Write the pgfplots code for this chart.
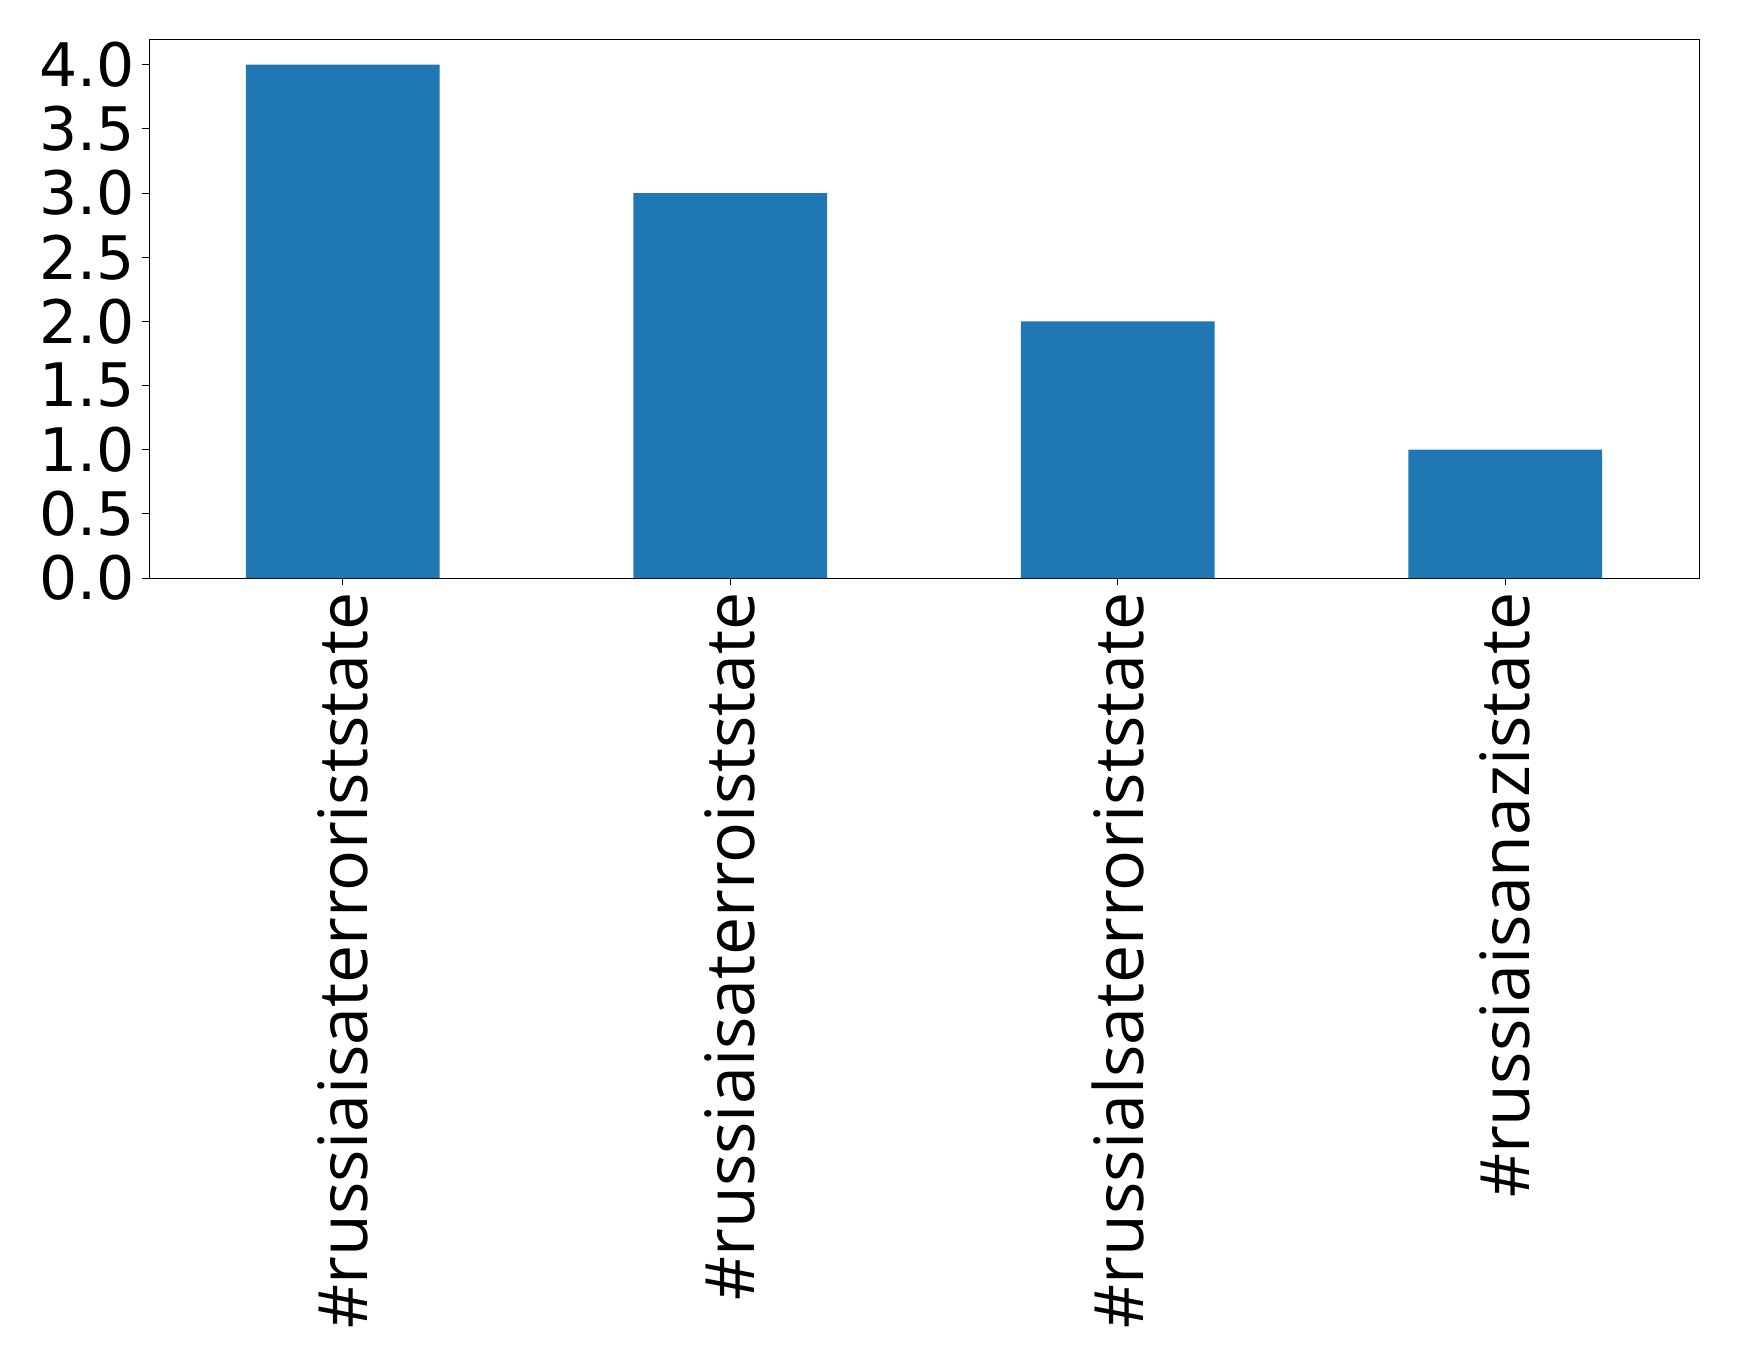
\documentclass[border=0pt]{standalone}
\usepackage{fontspec}
\setmainfont{DejaVu Sans}
\newfontfamily\labelfont{Open Sans}
\usepackage{pgfplots}
\pgfplotsset{compat=1.18}
\definecolor{mplblue}{HTML}{1F77B4}

\begin{document}
\begin{tikzpicture}
\begin{axis}[
    name=ax,
    scale only axis,
    width=775pt, height=269.5pt,
    ybar, bar width=0.5, bar shift=0pt,
    xmin=-0.5, xmax=3.5,
    ymin=0, ymax=4.2,
    xtick={0,1,2,3},
    xticklabels={\#russiaisaterroriststate,\#russiaisaterroiststate,\#russialsaterroriststate,\#russiaisanazistate},
    x tick label style={font=\labelfont\fontsize{34}{40}\selectfont, rotate=90, anchor=east},
    ytick={0,0.5,...,4.0},
    y tick label style={font=\fontsize{30}{36}\selectfont},
    /pgf/number format/assume math mode=true,
    yticklabel style={/pgf/number format/.cd, fixed, fixed zerofill, precision=1},
    tick align=outside,
    major tick length=3.5pt,
    tick style={black, line width=0.4pt},
    axis line style={line width=0.4pt},
    xtick pos=bottom, ytick pos=left,
]
\addplot[fill=mplblue, draw=none] coordinates {(0,4) (1,3) (2,2) (3,1)};
\end{axis}
\useasboundingbox ([xshift=-74.5pt,yshift=-392.5pt]ax.south west) rectangle ([xshift=20pt,yshift=19.5pt]ax.north east);
\end{tikzpicture}
\end{document}
